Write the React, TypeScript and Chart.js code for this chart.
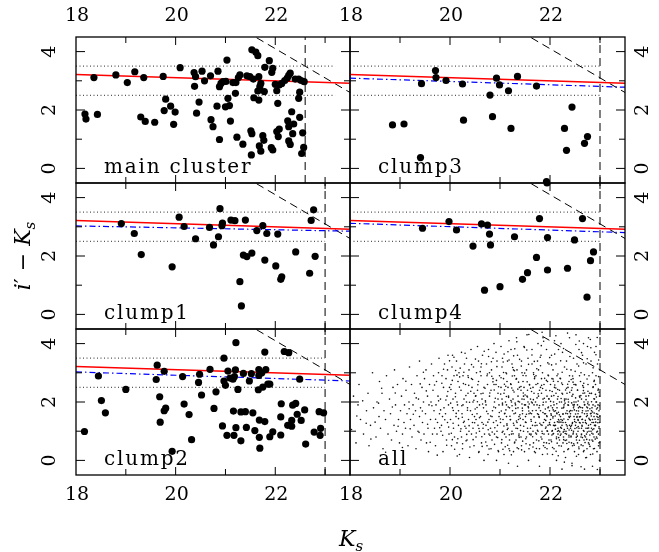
import React, { useEffect, useRef } from 'react';
import { Chart, registerables } from 'chart.js';

Chart.register(...registerables);

const W = 659;
const H = 552;

// axis ranges and ticks
const xMin = 18;
const xMax = 23.5;
const yMin = -0.5;
const yMax = 4.5;
const xMajor = [18, 20, 22];
const xMinor = [19, 21, 23];
const yMajor = [0, 2, 4];
const yMinor = [1, 3];

// reference lines
const redLine = [[18, 3.22], [23.5, 2.92]];
const dottedLevels = [3.5, 2.5];
const diagLimit = 26.1; // i' limit: (i'-Ks) = 26.1 - Ks
const diagX = [21.4, 23.6];

// panel data (Ks, i'-Ks)
const mainCluster = [
  [18.18, 1.86], [18.2, 1.69], [18.43, 1.85], [18.36, 3.11], [18.8, 3.2], [19.03, 2.94], [19.18, 3.31], [19.36, 3.11],
  [19.3, 1.76], [19.39, 1.61], [19.58, 1.58], [19.75, 3.15], [19.8, 2.37], [19.77, 1.98], [19.9, 2.13], [19.99, 1.93],
  [19.96, 1.51], [20.09, 3.45], [20.37, 3.28], [20.4, 3.14], [20.53, 3.33], [20.38, 2.81], [20.58, 3.0], [20.7, 3.17],
  [20.85, 3.33], [21.03, 3.71], [20.47, 2.27], [20.42, 1.89], [20.71, 1.67], [20.75, 1.43], [20.83, 2.13], [20.88, 2.8],
  [20.91, 2.91], [20.95, 2.97], [21.01, 2.98], [21.0, 2.11], [21.08, 2.15], [21.05, 2.4], [21.1, 1.62], [20.88, 0.99],
  [21.15, 2.94], [21.21, 2.94], [21.26, 3.11], [21.29, 3.2], [21.2, 2.57], [21.23, 1.07], [21.35, 0.83], [21.43, 3.17],
  [21.49, 3.14], [21.56, 3.06], [21.53, 4.06], [21.61, 3.98], [21.65, 3.86], [21.67, 3.14], [21.71, 2.91], [21.69, 2.8],
  [21.57, 2.42], [21.67, 2.34], [21.65, 2.65], [21.51, 1.29], [21.53, 1.19], [21.75, 1.12], [21.77, 0.96], [21.68, 0.77],
  [21.71, 0.59], [21.52, 0.46], [21.79, 3.46], [21.88, 3.69], [21.95, 3.43], [21.93, 3.29], [21.78, 2.63], [22.0, 2.88],
  [22.03, 2.66], [22.05, 2.23], [22.08, 2.86], [22.13, 2.91], [22.19, 3.01], [22.24, 3.09], [22.27, 3.19], [22.3, 3.26],
  [22.4, 3.06], [22.47, 3.06], [22.52, 3.01], [22.58, 2.97], [22.49, 2.61], [22.47, 2.4], [22.33, 1.94], [22.25, 1.63],
  [22.27, 1.43], [22.37, 1.52], [22.35, 1.19], [22.49, 1.75], [22.55, 1.22], [22.08, 1.35], [22.06, 1.09], [22.03, 1.26],
  [22.27, 0.94], [22.3, 0.82], [21.95, 0.63], [21.92, 0.71], [22.57, 0.72], [22.53, 0.51],
];

const clump3 = [
  [18.85, 1.49], [19.08, 1.52], [19.41, 0.37], [19.43, 2.9], [19.71, 3.35], [19.72, 3.11], [19.92, 3.01], [20.25, 2.89],
  [20.27, 1.65], [20.8, 2.51], [20.85, 1.77], [20.93, 3.09], [20.99, 2.86], [21.17, 2.66], [21.22, 1.37], [21.35, 3.15],
  [21.73, 2.82], [21.93, -0.45], [22.29, 1.37], [22.33, 0.62], [22.44, 2.1], [22.69, 0.86], [22.75, 1.09],
];

const clump1 = [
  [18.91, 3.11], [19.17, 2.77], [19.31, 2.05], [19.93, 1.63], [20.07, 3.33], [20.17, 3.01], [20.4, 2.59], [20.68, 2.98],
  [20.76, 2.38], [20.86, 2.66], [20.89, 3.62], [20.93, 3.04], [20.94, 3.13], [21.11, 3.23], [21.19, 3.21], [21.4, 3.23],
  [21.36, 2.03], [21.43, 1.98], [21.53, 2.1], [21.29, 1.12], [21.32, 0.29], [21.63, 2.87], [21.75, 3.04], [21.83, 2.77],
  [21.79, 1.86], [22.01, 1.66], [22.05, 2.75], [22.13, 1.29], [22.11, 1.2], [22.41, 2.14], [22.69, 1.41], [22.72, 3.22],
  [22.77, 3.58], [22.8, 1.99],
];

const clump4 = [
  [19.45, 2.95], [19.98, 3.18], [20.13, 2.89], [20.46, 2.34], [20.63, 3.1], [20.75, 3.06], [20.79, 2.75], [20.81, 2.38],
  [20.69, 0.83], [21.0, 0.95], [21.29, 2.66], [21.45, 1.2], [21.55, 1.43], [21.73, 1.95], [21.79, 3.28], [21.94, 4.5],
  [21.95, 2.63], [21.95, 1.52], [22.35, 1.58], [22.49, 2.55], [22.65, 3.28], [22.74, 0.59], [22.81, 1.84], [22.87, 2.14],
];

const clump2 = [
  [18.17, 0.99], [18.45, 2.89], [18.51, 2.05], [18.59, 1.63], [19.0, 2.43], [19.63, 3.26], [19.61, 2.77], [19.77, 3.05],
  [19.68, 2.18], [19.8, 1.79], [19.77, 1.7], [19.69, 1.31], [19.93, 0.31], [20.14, 2.87], [20.17, 1.93], [20.27, 1.57],
  [20.32, 0.71], [20.46, 2.67], [20.48, 2.95], [20.52, 2.24], [20.69, 3.12], [20.81, 2.35], [20.77, 1.78], [20.97, 3.5],
  [21.05, 3.06], [20.97, 2.72], [21.0, 2.57], [20.94, 1.18], [21.03, 0.86], [21.15, 2.78], [21.09, 2.82], [21.2, 3.1],
  [21.18, 2.87], [21.21, 4.03], [21.16, 1.69], [21.21, 1.12], [21.17, 0.86], [21.25, 2.43], [21.36, 2.98], [21.31, 1.66],
  [21.4, 1.67], [21.31, 0.67], [21.42, 1.13], [21.52, 2.97], [21.48, 2.72], [21.55, 1.63], [21.59, 1.02], [21.67, 3.11],
  [21.67, 2.91], [21.73, 3.0], [21.81, 3.11], [21.79, 3.71], [21.66, 2.42], [21.75, 2.51], [21.85, 2.61], [21.89, 2.61],
  [21.68, 1.38], [21.79, 1.33], [21.68, 0.79], [21.69, 0.42], [21.89, 0.81], [21.95, 0.98], [22.11, 0.87], [22.12, 1.94],
  [22.11, 1.49], [22.18, 3.73], [22.27, 3.69], [22.25, 1.2], [22.33, 1.37], [22.33, 1.17], [22.35, 1.89], [22.41, 1.95],
  [22.44, 1.58], [22.49, 2.78], [22.52, 1.37], [22.59, 1.73], [22.61, 0.56], [22.78, 0.97], [22.88, 1.67], [22.97, 1.63],
  [22.9, 0.86], [22.91, 1.1],
];

const allSourcesA = [
  [18.03, 1.06], [18.07, 2.2], [18.12, 0.6], [18.16, 1.9], [18.18, 2.6], [18.21, 1.4], [18.27, 0.9], [18.33, 1.7],
  [18.36, 2.3], [18.38, 0.5], [18.41, 1.2], [18.45, 3.0], [18.47, 1.8], [18.52, 0.8], [18.54, 2.0], [18.58, 1.5],
  [18.59, 2.7], [18.61, 1.1], [18.64, 2.3], [18.66, 0.4], [18.68, 1.7], [18.71, 1.4], [18.73, 2.9], [18.76, 0.9],
  [18.79, 2.1], [18.81, 1.6], [18.83, 0.7], [18.86, 2.5], [18.88, 1.2], [18.89, 3.1], [18.91, 1.9], [18.93, 1.0],
  [18.95, 2.6], [18.97, 1.4], [18.99, 0.6], [19.01, 1.7], [19.03, 2.2], [19.05, 0.9], [19.06, 2.8], [19.08, 1.3],
  [19.09, 1.9], [19.11, 1.1], [19.12, 2.4], [19.14, 1.6], [19.16, 0.5], [19.18, 2.0], [19.19, 3.2], [19.21, 1.4],
  [19.23, 2.6], [19.24, 0.8], [19.26, 1.9], [19.28, 1.2], [19.29, 2.3], [19.31, 1.7], [19.32, 0.4], [19.34, 2.9],
  [19.36, 1.0], [19.37, 2.1], [19.39, 1.5], [19.39, 3.4], [19.41, 1.8], [19.42, 0.7], [19.44, 2.5], [19.45, 1.3],
  [19.47, 2.0], [19.48, 0.9], [19.49, 2.8], [19.51, 1.6], [19.52, 3.1], [19.53, 0.6], [19.55, 2.2], [19.56, 1.1],
  [19.58, 1.9], [19.59, 2.6], [19.57, 0.3], [19.61, 1.4], [19.62, 2.0], [19.63, 3.3], [19.65, 0.9], [19.66, 2.4],
  [19.68, 1.7], [19.69, 1.1], [19.67, 2.9], [19.71, 0.5], [19.72, 1.9], [19.73, 2.7], [19.75, 1.3], [19.76, 2.2],
  [19.78, 3.5], [19.79, 1.6], [19.74, 0.9], [19.77, 3.0], [19.81, 2.1], [19.82, 1.0], [19.84, 2.9], [19.85, 1.5],
  [19.86, 0.3], [19.87, 2.5], [19.88, 1.8], [19.89, 3.3], [19.83, 1.2], [19.91, 1.6], [19.92, 2.8], [19.93, 0.7],
  [19.94, 2.2], [19.95, 1.3], [19.96, 3.6], [19.97, 1.9], [19.98, 0.9], [19.99, 2.5], [19.95, 3.1], [20.01, 1.4],
  [20.02, 2.6], [20.03, 0.5], [20.04, 3.2], [20.05, 1.8], [20.06, 2.1], [20.07, 1.1], [20.08, 2.9], [20.09, 0.8],
  [20.05, 3.6], [20.11, 2.3], [20.12, 1.5], [20.13, 3.4], [20.14, 0.6], [20.15, 1.9], [20.16, 2.7], [20.17, 1.2],
  [20.18, 3.0], [20.19, 0.2], [20.14, 2.0], [20.17, 1.7], [20.21, 1.0], [20.22, 2.4], [20.23, 3.7], [20.24, 1.6],
  [20.25, 0.4], [20.26, 2.9], [20.27, 1.3], [20.28, 2.1], [20.29, 3.3], [20.23, 0.8], [20.26, 1.9], [20.31, 2.6],
  [20.32, 1.1], [20.33, 3.5], [20.34, 0.7], [20.35, 1.8], [20.36, 2.3], [20.37, 1.4], [20.38, 3.1], [20.39, 0.1],
  [20.33, 2.0], [20.36, 2.9], [20.38, 1.0], [20.41, 1.7], [20.42, 3.8], [20.43, 0.9], [20.44, 2.5], [20.45, 1.3],
  [20.46, 2.0], [20.47, 3.2], [20.48, 0.5], [20.49, 1.5], [20.43, 2.8], [20.46, 1.1], [20.48, 2.3], [20.51, 2.2],
  [20.52, 0.8], [20.53, 3.0], [20.54, 1.6], [20.55, 3.9], [20.56, 1.2], [20.57, 2.7], [20.58, 0.3], [20.59, 1.9],
  [20.52, 1.4], [20.55, 2.4], [20.57, 3.4], [20.59, 1.0], [20.61, 1.5], [20.62, 2.9], [20.63, 0.6], [20.64, 2.1],
  [20.65, 3.6], [20.66, 1.1], [20.67, 1.8], [20.68, 2.5], [20.69, 0.9], [20.62, 3.2], [20.64, 1.3], [20.66, 2.3],
  [20.68, 0.0], [20.71, 2.0], [20.72, 1.2], [20.73, 3.3], [20.74, 0.5], [20.75, 2.6], [20.76, 1.6], [20.77, 3.8],
  [20.78, 0.9], [20.79, 2.2], [20.72, 1.9], [20.74, 2.9], [20.76, 0.2], [20.78, 1.4], [20.79, 3.0], [20.81, 1.1],
  [20.82, 2.4], [20.83, 3.1], [20.84, 0.7], [20.85, 1.7], [20.86, 2.8], [20.87, 1.3], [20.88, 4.0], [20.89, 2.0],
  [20.82, 0.4], [20.84, 1.5], [20.86, 3.5], [20.88, 2.6], [20.89, 0.9], [20.91, 1.8], [20.92, 2.6], [20.93, 0.8],
  [20.94, 3.4], [20.95, 1.2], [20.96, 2.1], [20.97, 0.3], [20.98, 1.5], [20.99, 2.9], [20.92, 3.7], [20.94, 1.0],
  [20.96, 2.3], [20.98, 1.9], [20.93, 0.0], [21.01, 1.3], [21.02, 2.5], [21.03, 0.6], [21.04, 3.2], [21.05, 1.9],
  [21.06, 1.0], [21.07, 2.8], [21.08, 0.2], [21.09, 1.6], [21.02, 3.9], [21.04, 2.1], [21.06, 1.4], [21.08, 2.3],
  [21.09, 0.9], [21.05, 3.5], [21.11, 2.0], [21.12, 0.8], [21.13, 1.5], [21.14, 2.7], [21.15, 3.4], [21.16, 1.1],
  [21.17, 2.2], [21.18, 0.4], [21.19, 1.8], [21.12, 3.0], [21.14, 1.2], [21.16, 2.5], [21.18, 4.1], [21.19, 0.7],
  [21.13, 1.9], [21.17, -0.1], [21.21, 1.4], [21.22, 2.6], [21.23, 0.9], [21.24, 3.3], [21.25, 1.7], [21.26, 2.1],
  [21.27, 0.3], [21.28, 1.2], [21.29, 2.9], [21.22, 3.8], [21.24, 1.0], [21.26, 2.4], [21.28, 1.6], [21.29, 0.6],
  [21.23, 2.0], [21.27, 3.1], [21.31, 1.9], [21.32, 0.7], [21.33, 2.8], [21.34, 1.3], [21.35, 3.6], [21.36, 2.2],
  [21.37, 0.4], [21.38, 1.5], [21.39, 2.5], [21.32, 1.1], [21.34, 3.1], [21.36, 1.8], [21.38, 0.9], [21.39, 2.0],
  [21.33, 4.2], [21.37, 1.4], [21.35, -0.2], [21.41, 1.2], [21.42, 2.4], [21.43, 0.5], [21.44, 3.0], [21.45, 1.6],
  [21.46, 2.7], [21.47, 1.0], [21.48, 3.9], [21.49, 1.9], [21.42, 0.8], [21.44, 2.1], [21.46, 1.4], [21.48, 2.5],
  [21.49, 0.3], [21.43, 3.4], [21.45, 1.7], [21.47, 2.2], [21.51, 1.5], [21.52, 2.9], [21.53, 0.8], [21.54, 2.2],
  [21.55, 1.1], [21.56, 3.5], [21.57, 1.8], [21.58, 0.4], [21.59, 2.6], [21.52, 1.3], [21.54, 4.3], [21.56, 2.0],
  [21.58, 1.6], [21.59, 0.9], [21.53, 3.1], [21.55, 2.4], [21.57, 0.0], [21.51, 1.9], [21.61, 2.1], [21.62, 0.9],
  [21.63, 1.6], [21.64, 3.3], [21.65, 1.2], [21.66, 2.5], [21.67, 0.6], [21.68, 1.9], [21.69, 2.8], [21.62, 1.4],
  [21.64, 3.8], [21.66, 1.0], [21.68, 2.3], [21.69, 0.3], [21.63, 2.0], [21.65, 1.7], [21.67, 3.0], [21.61, 1.1],
  [21.71, 1.3], [21.72, 2.6], [21.73, 0.7], [21.74, 1.9], [21.75, 3.4], [21.76, 1.0], [21.77, 2.2], [21.78, 1.5],
  [21.79, 0.4], [21.72, 2.9], [21.74, 1.2], [21.76, 4.0], [21.78, 1.8], [21.79, 2.4], [21.73, 0.9], [21.75, 1.6],
  [21.77, 3.1], [21.71, 2.0], [21.79, -0.2], [21.81, 1.7], [21.82, 0.8], [21.83, 2.3], [21.84, 1.2], [21.85, 3.0],
  [21.86, 1.9], [21.87, 0.5], [21.88, 2.6], [21.89, 1.4], [21.82, 3.6], [21.84, 1.0], [21.86, 2.1], [21.88, 0.9],
  [21.89, 1.6], [21.83, 2.8], [21.85, 0.2], [21.87, 1.3], [21.81, 2.5], [21.86, 4.2], [21.91, 1.1], [21.92, 2.0],
  [21.93, 0.6], [21.94, 1.5], [21.95, 2.7], [21.96, 1.8], [21.97, 0.9], [21.98, 3.3], [21.99, 1.3], [21.92, 2.4],
  [21.94, 0.4], [21.96, 1.2], [21.98, 2.1], [21.99, 1.7], [21.93, 3.8], [21.95, 1.0], [21.97, 2.9], [21.91, 1.6],
  [21.94, 2.2], [21.98, 0.7], [22.01, 1.4], [22.02, 0.7], [22.03, 2.2], [22.04, 1.0], [22.05, 1.8], [22.06, 3.1],
  [22.07, 1.2], [22.08, 0.4], [22.09, 2.5], [22.02, 1.6], [22.04, 2.8], [22.06, 0.9], [22.08, 1.9], [22.09, 1.3],
  [22.03, 3.6], [22.05, 0.2], [22.07, 2.0], [22.01, 2.6], [22.06, 1.5], [22.09, 4.1], [22.11, 1.2], [22.12, 2.3],
  [22.13, 0.8], [22.14, 1.6], [22.15, 1.0], [22.16, 2.7], [22.17, 1.4], [22.18, 0.5], [22.19, 2.0], [22.12, 3.3],
  [22.14, 1.8], [22.16, 0.9], [22.18, 1.3], [22.19, 2.4], [22.13, 0.0], [22.15, 2.1], [22.17, 3.8], [22.11, 1.7],
  [22.16, 1.1], [22.19, 0.7], [22.14, 2.9], [22.21, 1.5], [22.22, 0.9], [22.23, 2.0], [22.24, 1.2], [22.25, 2.6],
  [22.26, 0.6], [22.27, 1.8], [22.28, 1.0], [22.29, 3.2], [22.22, 1.4], [22.24, 2.3], [22.26, 1.6], [22.28, 0.3],
  [22.29, 2.1], [22.23, 1.1], [22.25, 3.7], [22.27, 0.8], [22.21, 2.8], [22.26, 1.3], [22.28, 1.9], [22.24, -0.3],
  [22.22, 4.0], [22.31, 1.3], [22.32, 2.1], [22.33, 0.7], [22.34, 1.7], [22.35, 1.1], [22.36, 2.5], [22.37, 0.4],
  [22.38, 1.5], [22.39, 2.9], [22.32, 1.0], [22.34, 2.3], [22.36, 1.9], [22.38, 0.8], [22.39, 1.2], [22.33, 3.4],
  [22.35, 1.6], [22.37, 2.0], [22.31, 0.1], [22.36, 1.4], [22.38, 2.7], [22.33, 0.9], [22.39, 4.2], [22.41, 1.6],
  [22.42, 0.8], [22.43, 1.2], [22.44, 2.2], [22.45, 0.5], [22.46, 1.9], [22.47, 1.0], [22.48, 2.6], [22.49, 1.4],
  [22.42, 3.1], [22.44, 1.7], [22.46, 0.9], [22.48, 2.0], [22.49, 0.3], [22.43, 2.4], [22.45, 1.3], [22.47, 3.5],
  [22.41, 1.1], [22.46, 2.8], [22.48, 1.5], [22.43, 0.6], [22.44, -0.1], [22.47, 1.8], [22.51, 1.2], [22.52, 2.0],
  [22.53, 0.7], [22.54, 1.5], [22.55, 2.4], [22.56, 1.0], [22.57, 1.8], [22.58, 0.4], [22.59, 2.9], [22.52, 1.3],
  [22.54, 3.3], [22.56, 1.6], [22.58, 1.1], [22.59, 2.2], [22.53, 0.9], [22.55, 1.9], [22.57, 0.2], [22.51, 2.6],
  [22.56, 1.4], [22.58, 3.8], [22.53, 1.7], [22.55, 0.6], [22.59, 1.3], [22.52, 4.3], [22.61, 1.5], [22.62, 0.8],
  [22.63, 2.1], [22.64, 1.2], [22.65, 1.7], [22.66, 0.5], [22.67, 2.5], [22.68, 1.0], [22.69, 1.9], [22.62, 3.0],
  [22.64, 1.4], [22.66, 2.3], [22.68, 0.7], [22.69, 1.6], [22.63, 1.1], [22.65, 3.6], [22.67, 0.3], [22.61, 2.7],
  [22.66, 1.3], [22.68, 2.0], [22.63, 0.9], [22.65, 1.8], [22.69, -0.3], [22.67, 4.0], [22.71, 1.3], [22.72, 2.2],
  [22.73, 0.9], [22.74, 1.6], [22.75, 1.1], [22.76, 2.6], [22.77, 0.6], [22.78, 1.9], [22.79, 1.4], [22.72, 3.3],
  [22.74, 0.4], [22.76, 1.7], [22.78, 1.0], [22.79, 2.3], [22.73, 1.5], [22.75, 3.9], [22.77, 1.2], [22.71, 0.8],
  [22.76, 2.0], [22.78, 2.9], [22.73, 0.1], [22.75, 1.8], [22.79, 0.7], [22.72, 1.1], [22.77, 4.2], [22.81, 1.6],
  [22.82, 1.0], [22.83, 2.3], [22.84, 0.7], [22.85, 1.4], [22.86, 1.9], [22.87, 0.4], [22.88, 2.7], [22.89, 1.2],
  [22.82, 3.4], [22.84, 1.8], [22.86, 0.9], [22.88, 1.5], [22.89, 2.1], [22.83, 1.1], [22.85, 3.0], [22.87, 1.3],
  [22.81, 0.2], [22.86, 2.5], [22.88, 0.8], [22.83, 1.7], [22.85, -0.2], [22.89, 3.7], [22.84, 1.3], [22.91, 1.2],
  [22.92, 2.0], [22.93, 0.8], [22.94, 1.5], [22.95, 1.0], [22.96, 2.4], [22.97, 0.5], [22.98, 1.7], [22.99, 1.3],
  [22.92, 2.9], [22.94, 0.3], [22.96, 1.9], [22.98, 1.1], [22.99, 2.2], [22.93, 1.6], [22.95, 3.3], [22.97, 0.9],
  [22.91, 2.6], [22.96, 1.4], [22.98, 0.6], [22.93, 2.0], [22.95, 1.8], [22.99, 0.0], [22.92, 3.9],
];

const allSourcesB = [
  [18.137, 1.52], [18.254, 2.04], [18.418, 0.73], [18.502, 1.31], [18.633, 2.47], [18.712, 0.28], [18.847, 1.83], [18.905, 2.31],
  [18.962, 1.17], [19.048, 0.44], [19.117, 2.71], [19.203, 1.08], [19.266, 1.58], [19.324, 2.14], [19.381, 0.96], [19.447, 1.69],
  [19.468, 3.02], [19.526, 2.38], [19.552, 1.24], [19.604, 0.62], [19.638, 1.87], [19.691, 2.58], [19.712, 1.41], [19.745, 0.18],
  [19.772, 2.04], [19.794, 1.12], [18.571, 1.96], [18.324, 1.27], [19.183, 1.77], [19.404, 2.62],
  [19.812, 1.73], [19.837, 2.64], [19.853, 0.86], [19.871, 3.12], [19.896, 1.39], [19.918, 2.07], [19.934, 0.52], [19.957, 2.36],
  [19.973, 1.14], [19.991, 3.41], [20.013, 1.96], [20.027, 0.93], [20.046, 2.74], [20.062, 1.27], [20.079, 3.53], [20.093, 0.38],
  [20.108, 2.18], [20.124, 1.61], [20.139, 2.92], [20.157, 0.74], [20.171, 1.43], [20.188, 2.51], [20.203, 3.16], [20.219, 1.08],
  [20.236, 1.87], [20.252, 0.57], [20.268, 2.63], [20.285, 1.34], [20.301, 3.67], [20.318, 2.22], [20.334, 0.89], [20.349, 1.72],
  [20.367, 2.84], [20.382, 1.19], [20.398, 0.46], [20.415, 2.37], [20.431, 3.28], [20.446, 1.57], [20.462, 0.71], [20.478, 2.06],
  [20.493, 1.29], [20.509, 3.47], [20.526, 0.94], [20.541, 1.81], [20.557, 2.59], [20.573, 0.27], [20.589, 1.46], [20.604, 3.04],
  [20.621, 2.28], [20.637, 0.81], [20.652, 1.93], [20.668, 1.24], [20.684, 3.74], [20.701, 2.47], [20.716, 0.63], [20.733, 1.68],
  [20.748, 2.96], [20.764, 1.05], [20.781, 0.39], [20.797, 2.31], [20.812, 1.52], [20.828, 3.38], [20.843, 0.97], [20.859, 2.69],
  [20.876, 1.83], [20.891, 0.55], [20.907, 2.13], [20.923, 1.36], [20.938, 3.21], [20.954, 0.78], [20.971, 2.52], [20.986, 1.64],
  [20.018, 2.43], [20.144, 0.15], [20.277, 3.02], [20.391, 1.99], [20.517, 2.21], [20.643, 0.48], [20.772, 3.56], [20.897, 1.12],
  [20.066, 1.71], [20.193, 2.86], [20.322, 0.67], [20.452, 2.77], [20.579, 1.09], [20.708, 2.04], [20.836, 2.88], [20.962, 0.34],
  [20.113, 3.08], [20.246, 1.48], [20.375, 2.57], [20.503, 1.76], [20.628, 3.31], [20.757, 1.31], [20.884, 2.41], [20.047, 0.71],
  [20.298, 1.17], [20.548, 2.01], [20.799, 0.86], [20.929, 2.74],
  [21.008, 1.42], [21.021, 2.83], [21.037, 0.71], [21.049, 1.96], [21.063, 3.37], [21.078, 1.18], [21.091, 2.41], [21.104, 0.47],
  [21.118, 1.73], [21.131, 2.97], [21.146, 1.06], [21.159, 3.72], [21.172, 2.16], [21.186, 0.88], [21.199, 1.51], [21.213, 2.62],
  [21.227, 0.19], [21.241, 1.87], [21.254, 3.18], [21.268, 1.27], [21.281, 2.34], [21.296, 0.63], [21.309, 1.62], [21.322, 2.78],
  [21.337, 4.06], [21.351, 1.09], [21.364, 2.02], [21.378, 0.84], [21.392, 3.46], [21.405, 1.44], [21.419, 2.53], [21.432, 0.36],
  [21.447, 1.79], [21.461, 2.91], [21.474, 1.17], [21.488, 3.87], [21.502, 2.24], [21.516, 0.74], [21.529, 1.58], [21.543, 2.69],
  [21.557, 0.98], [21.571, 3.29], [21.584, 1.93], [21.598, 0.53], [21.612, 2.47], [21.625, 1.34], [21.639, 3.61], [21.653, 0.81],
  [21.667, 2.08], [21.681, 1.49], [21.694, 2.86], [21.708, 0.26], [21.722, 1.71], [21.736, 3.14], [21.749, 1.03], [21.763, 2.28],
  [21.777, 0.67], [21.791, 1.88], [21.804, 3.53], [21.818, 1.22], [21.832, 2.57], [21.846, 0.92], [21.859, 1.64], [21.873, 4.08],
  [21.887, 2.13], [21.901, 0.44], [21.915, 1.37], [21.928, 2.74], [21.942, 1.01], [21.956, 3.34], [21.969, 1.83], [21.983, 0.58],
  [21.997, 2.39], [21.014, 2.27], [21.044, 0.96], [21.071, 3.01], [21.097, 1.61], [21.127, 2.19], [21.153, 0.52], [21.181, 3.44],
  [21.207, 1.39], [21.236, 2.48], [21.262, 0.91], [21.289, 3.07], [21.316, 1.78], [21.343, 0.43], [21.371, 2.68], [21.398, 1.56],
  [21.426, 3.23], [21.453, 0.66], [21.481, 2.09], [21.509, 1.31], [21.536, 3.78], [21.563, 1.84], [21.591, 2.58], [21.618, 0.87],
  [21.646, 1.97], [21.673, 2.94], [21.701, 1.19], [21.728, 0.41], [21.756, 2.63], [21.783, 1.47], [21.811, 3.24], [21.838, 0.73],
  [21.866, 1.99], [21.893, 2.81], [21.921, 1.14], [21.948, 0.22], [21.976, 2.11], [21.026, 1.69], [21.088, 2.61], [21.139, 1.25],
  [21.194, 0.33], [21.246, 2.89], [21.303, 1.96], [21.357, 2.44], [21.411, 1.02], [21.466, 2.31], [21.521, 0.57], [21.576, 1.69],
  [21.631, 2.36], [21.686, 3.39], [21.741, 2.14], [21.797, 1.27], [21.852, 2.46], [21.907, 1.76], [21.962, 2.92], [21.059, 0.38],
  [21.165, 1.83], [21.273, 3.58], [21.384, 0.79], [21.494, 2.99], [21.605, 1.62], [21.714, 0.94], [21.826, 3.93], [21.934, 1.53],
  [21.115, 2.54], [21.329, 1.35], [21.549, 2.17], [21.769, 1.57], [21.989, 1.24], [21.219, 2.05], [21.439, 1.93], [21.659, 0.46],
  [21.879, 0.61], [21.994, 3.52], [21.082, 3.64], [21.296, 3.82], [21.577, 4.31], [21.842, 4.39],
  [22.006, 1.21], [22.019, 1.87], [22.031, 0.64], [22.044, 2.36], [22.058, 1.45], [22.071, 0.92], [22.083, 1.68], [22.096, 2.58],
  [22.109, 1.07], [22.122, 0.31], [22.135, 1.94], [22.148, 1.32], [22.161, 2.19], [22.174, 0.78], [22.187, 1.56], [22.201, 2.81],
  [22.214, 1.13], [22.227, 0.49], [22.239, 1.79], [22.252, 2.27], [22.265, 0.97], [22.278, 1.42], [22.291, 2.04], [22.304, 0.68],
  [22.317, 1.61], [22.331, 2.47], [22.344, 1.18], [22.357, 0.37], [22.369, 1.89], [22.382, 1.04], [22.395, 2.33], [22.408, 1.51],
  [22.421, 0.83], [22.434, 1.97], [22.447, 1.26], [22.461, 2.68], [22.474, 0.57], [22.487, 1.73], [22.499, 1.09], [22.512, 2.14],
  [22.525, 0.79], [22.538, 1.48], [22.551, 2.41], [22.564, 1.16], [22.577, 0.46], [22.591, 1.84], [22.604, 1.28], [22.617, 2.22],
  [22.629, 0.88], [22.642, 1.63], [22.655, 2.56], [22.668, 1.02], [22.681, 0.34], [22.694, 1.91], [22.707, 1.37], [22.721, 2.08],
  [22.734, 0.72], [22.747, 1.54], [22.759, 2.37], [22.772, 1.11], [22.785, 0.55], [22.798, 1.77], [22.811, 1.23], [22.824, 2.29],
  [22.837, 0.93], [22.851, 1.66], [22.864, 2.52], [22.877, 1.08], [22.889, 0.41], [22.902, 1.86], [22.915, 1.31], [22.928, 2.17],
  [22.941, 0.76], [22.954, 1.58], [22.967, 2.44], [22.981, 1.15], [22.994, 0.62], [22.012, 2.02], [22.038, 0.87], [22.064, 1.73],
  [22.091, 1.19], [22.117, 2.48], [22.143, 0.59], [22.169, 1.65], [22.196, 0.98], [22.222, 2.12], [22.248, 1.37], [22.274, 0.71],
  [22.301, 1.96], [22.327, 1.22], [22.353, 2.61], [22.379, 0.86], [22.406, 1.71], [22.432, 1.03], [22.458, 2.26], [22.484, 0.52],
  [22.511, 1.59], [22.537, 1.12], [22.563, 2.03], [22.589, 0.69], [22.616, 1.81], [22.642, 1.17], [22.668, 2.39], [22.694, 0.84],
  [22.721, 1.69], [22.747, 0.97], [22.773, 2.21], [22.799, 0.48], [22.826, 1.52], [22.852, 1.05], [22.878, 2.11], [22.904, 0.73],
  [22.931, 1.76], [22.957, 1.29], [22.983, 2.33], [22.025, 1.55], [22.077, 2.22], [22.129, 0.74], [22.181, 1.35], [22.233, 2.65],
  [22.285, 1.06], [22.337, 0.58], [22.389, 1.47], [22.441, 2.49], [22.493, 1.33], [22.545, 0.83], [22.597, 2.16], [22.649, 1.41],
  [22.701, 0.61], [22.753, 1.94], [22.805, 1.38], [22.857, 0.66], [22.909, 2.26], [22.961, 1.47], [22.051, 0.44], [22.155, 2.43],
  [22.259, 1.58], [22.363, 2.09], [22.467, 0.94], [22.571, 1.69], [22.675, 2.64], [22.779, 1.44], [22.883, 1.62], [22.987, 1.87],
  [22.103, 1.52], [22.207, 0.86], [22.311, 2.41], [22.415, 1.16], [22.519, 2.58], [22.623, 0.53], [22.727, 1.26], [22.831, 2.01],
  [22.935, 0.97], [22.069, 2.71], [22.173, 1.02], [22.277, 1.83], [22.381, 0.62], [22.485, 1.91], [22.589, 1.49], [22.693, 2.31],
  [22.797, 0.87], [22.901, 1.41], [22.047, 1.02], [22.219, 1.31], [22.391, 1.67], [22.563, 1.37], [22.735, 1.83], [22.907, 1.19],
  [22.133, 1.62], [22.305, 0.92], [22.477, 1.86], [22.649, 0.78], [22.821, 1.61], [22.993, 1.51], [22.165, 0.16], [22.441, -0.18],
  [22.713, 0.09], [22.947, -0.31], [22.287, -0.06], [22.621, -0.22], [22.855, 0.22], [22.529, 0.14],
  [22.032, 3.27], [22.094, 3.64], [22.158, 2.96], [22.213, 3.41], [22.271, 3.83], [22.336, 3.12], [22.398, 3.56], [22.452, 2.89],
  [22.517, 3.97], [22.573, 3.23], [22.631, 3.69], [22.688, 2.93], [22.744, 3.48], [22.806, 4.14], [22.862, 3.17], [22.919, 3.62],
  [22.972, 2.87], [22.118, 4.27], [22.351, 4.36], [22.586, 4.09], [22.817, 3.86], [22.944, 4.21], [22.062, 2.79], [22.243, 3.02],
  [22.423, 2.77], [22.671, 3.34], [22.886, 2.74], [22.973, 3.44], [22.503, 3.05], [22.741, 2.79],
];

// panel layout: columns and rows in page pixels
const colEdges = [76, 350, 625];
const rowEdges = [37, 183, 329, 475];

type Panel = {
  label: string;
  col: number;
  row: number;
  points: number[][];
  small?: boolean;
  red: boolean;
  blue?: number[];
  cut: number;
  dotEnd: number | null;
};

const panels: Panel[] = [
  { label: 'main cluster', col: 0, row: 0, points: mainCluster, red: true, cut: 22.6, dotEnd: 23.2 },
  { label: 'clump3', col: 1, row: 0, points: clump3, red: true, blue: [3.09, 2.78], cut: 23.0, dotEnd: 23.0 },
  { label: 'clump1', col: 0, row: 1, points: clump1, red: true, blue: [3.03, 2.85], cut: 23.0, dotEnd: 23.0 },
  { label: 'clump4', col: 1, row: 1, points: clump4, red: true, blue: [3.12, 2.8], cut: 23.0, dotEnd: 23.0 },
  { label: 'clump2', col: 0, row: 2, points: clump2, red: true, blue: [3.03, 2.72], cut: 23.0, dotEnd: 23.0 },
  { label: 'all', col: 1, row: 2, points: allSourcesA.concat(allSourcesB), small: true, red: false, cut: 23.0, dotEnd: null },
];

const SERIF = '"DejaVu Serif", "Liberation Serif", serif';

function lineDs(pts: number[][], color: string, dash: number[], width: number) {
  return {
    type: 'line' as const,
    data: pts.map(([x, y]) => ({ x, y })),
    borderColor: color,
    borderDash: dash,
    borderWidth: width,
    pointRadius: 0,
    fill: false,
    tension: 0,
  };
}

function decoPlugin(panel: Panel, drawTitles: boolean) {
  return {
    id: 'deco',
    afterDraw(chart: any) {
      const { ctx, chartArea: a, scales } = chart;
      const xs = scales.x;
      const ys = scales.y;
      ctx.save();
      ctx.strokeStyle = '#000';
      ctx.lineWidth = 1.3;
      ctx.strokeRect(a.left, a.top, a.right - a.left, a.bottom - a.top);
      ctx.lineWidth = 1;
      const seg = (x1: number, y1: number, x2: number, y2: number) => {
        ctx.beginPath();
        ctx.moveTo(x1, y1);
        ctx.lineTo(x2, y2);
        ctx.stroke();
      };
      const xt = (vals: number[], len: number) => {
        vals.forEach((v) => {
          const px = xs.getPixelForValue(v);
          if (px <= a.left + 1 || px >= a.right - 1) return;
          seg(px, a.bottom, px, a.bottom - len);
          seg(px, a.top, px, a.top + len);
        });
      };
      const yt = (vals: number[], len: number) => {
        vals.forEach((v) => {
          const py = ys.getPixelForValue(v);
          if (py <= a.top + 1 || py >= a.bottom - 1) return;
          seg(a.left, py, a.left + len, py);
          seg(a.right, py, a.right - len, py);
        });
      };
      xt(xMajor, 8);
      xt(xMinor, 6);
      yt(yMajor, 9);
      yt(yMinor, 6);

      // tick labels
      ctx.fillStyle = '#000';
      ctx.font = `19px ${SERIF}`;
      ctx.textAlign = 'center';
      ctx.textBaseline = 'middle';
      if (panel.row === 0) {
        xMajor.forEach((v) => ctx.fillText(String(v), xs.getPixelForValue(v) + 1, a.top - 21));
      }
      if (panel.row === 2) {
        xMajor.forEach((v) => ctx.fillText(String(v), xs.getPixelForValue(v) + 1, a.bottom + 20));
      }
      const lx = panel.col === 0 ? a.left - 26 : a.right + 18;
      yMajor.forEach((v) => {
        ctx.save();
        ctx.translate(lx, ys.getPixelForValue(v));
        ctx.rotate(-Math.PI / 2);
        ctx.fillText(String(v), 0, 0);
        ctx.restore();
      });

      // panel label
      ctx.textAlign = 'left';
      ctx.textBaseline = 'alphabetic';
      ctx.font = `20px ${SERIF}`;
      (ctx as any).letterSpacing = '1.8px';
      ctx.fillText(panel.label, a.left + 28, a.bottom - 10);
      (ctx as any).letterSpacing = '0px';

      if (drawTitles) {
        // y title: i' - K_s (rotated)
        const pieces = [
          { t: 'i', f: `italic 22px ${SERIF}`, dy: 0 },
          { t: '\u2032 \u2212 ', f: `22px ${SERIF}`, dy: 0 },
          { t: 'K', f: `italic 22px ${SERIF}`, dy: 0 },
          { t: 's', f: `italic 15px ${SERIF}`, dy: 5 },
        ];
        let total = 0;
        pieces.forEach((p) => {
          ctx.font = p.f;
          total += ctx.measureText(p.t).width;
        });
        ctx.save();
        ctx.translate(22, 256);
        ctx.rotate(-Math.PI / 2);
        let cx = -total / 2;
        pieces.forEach((p) => {
          ctx.font = p.f;
          ctx.fillText(p.t, cx, 8 + p.dy);
          cx += ctx.measureText(p.t).width;
        });
        ctx.restore();

        // x title: K_s
        ctx.font = `italic 22px ${SERIF}`;
        const kw = ctx.measureText('K').width;
        ctx.fillText('K', 339, 546);
        ctx.font = `italic 15px ${SERIF}`;
        ctx.fillText('s', 339 + kw, 551);
      }
      ctx.restore();
    },
  };
}

function PanelChart({ panel, drawTitles }: { panel: Panel; drawTitles: boolean }) {
  const ref = useRef<HTMLCanvasElement | null>(null);
  useEffect(() => {
    if (!ref.current) return;
    const L = colEdges[panel.col];
    const R = colEdges[panel.col + 1];
    const T = rowEdges[panel.row];
    const B = rowEdges[panel.row + 1];
    const datasets: any[] = [];
    datasets.push({
      type: 'scatter',
      data: panel.points.map(([x, y]) => ({ x, y })),
      pointRadius: panel.small ? 0.8 : 3.6,
      pointBackgroundColor: panel.small ? '#111' : '#000',
      pointBorderWidth: 0,
      showLine: false,
    });
    if (panel.blue) {
      datasets.push(lineDs([[xMin, panel.blue[0]], [xMax, panel.blue[1]]], '#0000ff', [6, 3, 1.5, 3], 1.2));
    }
    if (panel.red) {
      datasets.push(lineDs(redLine, '#ff0000', [], 1.5));
    }
    if (panel.dotEnd !== null) {
      dottedLevels.forEach((lv) => {
        datasets.push(lineDs([[xMin, lv], [panel.dotEnd as number, lv]], '#555555', [1, 2.5], 1.2));
      });
    }
    datasets.push(lineDs([[panel.cut, yMin], [panel.cut, yMax]], '#000', [8, 5], 1));
    datasets.push(lineDs(diagX.map((x) => [x, diagLimit - x]), '#000', [8, 5], 1));

    const chart = new Chart(ref.current, {
      type: 'scatter',
      data: { datasets },
      options: {
        animation: false,
        responsive: false,
        events: [],
        layout: { padding: { left: L, top: T, right: W - R, bottom: H - B } },
        scales: {
          x: { type: 'linear', min: xMin, max: xMax, display: false },
          y: { type: 'linear', min: yMin, max: yMax, display: false },
        },
        plugins: { legend: { display: false }, tooltip: { enabled: false } },
      },
      plugins: [decoPlugin(panel, drawTitles)],
    } as any);
    return () => chart.destroy();
  }, [panel, drawTitles]);
  return (
    <canvas
      ref={ref}
      width={W}
      height={H}
      style={{ position: 'absolute', left: 0, top: 0, width: W, height: H }}
    />
  );
}

export default function App() {
  return (
    <div style={{ position: 'absolute', left: 0, top: 0, width: W, height: H, background: '#fff' }}>
      {panels.map((p, i) => (
        <PanelChart key={p.label} panel={p} drawTitles={i === 0} />
      ))}
    </div>
  );
}
